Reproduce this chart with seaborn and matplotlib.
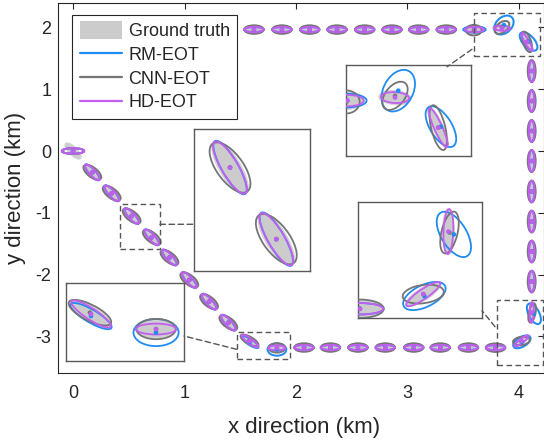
import matplotlib
matplotlib.use('Agg')
import matplotlib.pyplot as plt
import seaborn as sns
import pandas as pd
from matplotlib.patches import Ellipse, Rectangle, ConnectionPatch
from matplotlib.lines import Line2D

# ---------------- data ----------------
# ellipse centres along the ground-truth track (km)
track_x = [0.0, 0.173, 0.347, 0.526, 0.706, 0.865, 1.043, 1.220, 1.393,
           1.587, 1.829,
           2.072, 2.309, 2.556, 2.801, 3.056, 3.294, 3.547, 3.790,
           4.022, 4.114,
           4.114, 4.114, 4.114, 4.114, 4.114, 4.114, 4.114, 4.114,
           4.072, 3.848,
           3.601, 3.348, 3.100, 2.861, 2.616, 2.368, 2.123, 1.874, 1.623]
track_y = [0.0, -0.345, -0.684, -1.052, -1.396, -1.723, -2.087, -2.438, -2.778,
           -3.075, -3.186,
           -3.180, -3.180, -3.180, -3.180, -3.180, -3.180, -3.180, -3.182,
           -3.074, -2.613,
           -2.112, -1.626, -1.141, -0.655, -0.162, 0.324, 0.809, 1.294,
           1.766, 1.987,
           1.965, 1.965, 1.965, 1.965, 1.965, 1.965, 1.965, 1.965, 1.965]
track_kind = ['d'] * 9 + ['t', 't'] + ['h'] * 8 + ['t', 't'] + ['v'] * 8 + ['t', 't'] + ['h'] * 9

methods = ['Ground truth', 'RM-EOT', 'CNN-EOT', 'HD-EOT']

# (semi-major km, semi-minor km, angle deg) per straight-segment type
shapes = {
    'Ground truth': {'d': (0.138, 0.042, -65), 'h': (0.085, 0.062, 0), 'v': (0.175, 0.032, 90)},
    'RM-EOT':       {'d': (0.140, 0.034, -66), 'h': (0.087, 0.042, 0), 'v': (0.172, 0.025, 90)},
    'CNN-EOT':      {'d': (0.134, 0.055, -62), 'h': (0.087, 0.068, 0), 'v': (0.175, 0.035, 90)},
    'HD-EOT':       {'d': (0.138, 0.034, -65), 'h': (0.085, 0.042, 0), 'v': (0.172, 0.025, 90)},
}
# individual estimates that differ: index -> (x, y, semi-major, semi-minor, angle)
overrides = {
    'Ground truth': {9: (1.587, -3.075, 0.119, 0.039, -54.6), 10: (1.829, -3.186, 0.075, 0.065, 0),
                     19: (4.022, -3.074, 0.106, 0.031, 56.4), 20: (4.114, -2.613, 0.169, 0.020, 90),
                     29: (4.072, 1.766, 0.152, 0.027, -72.8), 30: (3.848, 1.987, 0.082, 0.050, -8)},
    'RM-EOT': {0: (0.0, 0.0, 0.100, 0.045, 0), 9: (1.587, -3.090, 0.119, 0.035, -53),
               10: (1.829, -3.212, 0.084, 0.100, 0), 19: (4.026, -3.088, 0.1155, 0.059, 59.3),
               20: (4.134, -2.634, 0.171, 0.051, 103), 29: (4.086, 1.773, 0.159, 0.060, -69.4),
               30: (3.865, 2.038, 0.157, 0.080, 75.6), 31: (3.601, 1.965, 0.100, 0.050, 0)},
    'CNN-EOT': {0: (0.0, 0.0, 0.100, 0.045, 0), 9: (1.583, -3.065, 0.115, 0.045, -52),
                10: (1.829, -3.186, 0.073, 0.075, 3), 19: (4.022, -3.074, 0.081, 0.063, 36),
                20: (4.118, -2.620, 0.155, 0.030, 84), 29: (4.072, 1.766, 0.167, 0.037, -80.8),
                30: (3.848, 2.000, 0.110, 0.055, 67.9), 31: (3.595, 1.955, 0.070, 0.085, 0)},
    'HD-EOT': {0: (0.0, 0.0, 0.100, 0.045, 0), 9: (1.587, -3.075, 0.121, 0.030, -55),
               10: (1.829, -3.186, 0.075, 0.040, 0), 19: (4.022, -3.074, 0.106, 0.025, 56.4),
               20: (4.114, -2.613, 0.165, 0.018, 89), 29: (4.072, 1.766, 0.150, 0.022, -72.8),
               30: (3.848, 1.987, 0.073, 0.040, -5)},
}

x_ticks = [0, 1, 2, 3, 4]
y_ticks = [-3, -2, -1, 0, 1, 2]

# zoom boxes in the main plot (x0, x1, y0, y1)
zoom_boxes = [(0.422, 0.780, -1.586, -0.863), (3.596, 4.188, 1.537, 2.229),
              (3.803, 4.215, -3.463, -2.412), (1.468, 1.946, -3.371, -2.924)]
# inset view limits (x0, x1, y0, y1)
inset_views = [(0.386, 0.837, -1.549, -0.867), (3.594, 4.242, 1.557, 2.227),
               (3.783, 4.237, -3.250, -2.395), (1.494, 1.933, -3.422, -2.848)]

# ---------------- style ----------------
colors = {'Ground truth': '#cccccc', 'RM-EOT': '#1e8cf0', 'CNN-EOT': '#757575', 'HD-EOT': '#c25ff2'}
sns.set_theme(style='white')
plt.rcParams['font.family'] = ['Liberation Sans', 'DejaVu Sans']
plt.rcParams['axes.unicode_minus'] = False


def params(method, i):
    ov = overrides[method]
    if i in ov:
        return ov[i]
    a, b, ang = shapes[method][track_kind[i]]
    return (track_x[i], track_y[i], a, b, ang)


rows = []
for m in methods:
    for i in range(len(track_x)):
        x, y, a, b, ang = params(m, i)
        rows.append(dict(method=m, idx=i, x=x, y=y, a=a, b=b, ang=ang))
df = pd.DataFrame(rows)
dots = df[df.method != 'Ground truth'].copy()
dots['order'] = dots.method.map({'RM-EOT': 0, 'CNN-EOT': 1, 'HD-EOT': 2})
dots = dots.sort_values(['order', 'idx'])


def draw_track(ax, lw):
    for m, z in zip(methods, [2, 3, 4, 5]):
        sub = df[df.method == m]
        for _, r in sub.iterrows():
            if m == 'Ground truth':
                e = Ellipse((r.x, r.y), 2 * r.a, 2 * r.b, angle=r.ang, facecolor=colors[m],
                            edgecolor='#d2d2d2', lw=1.2, zorder=z)
            else:
                e = Ellipse((r.x, r.y), 2 * r.a, 2 * r.b, angle=r.ang, facecolor='none',
                            edgecolor=colors[m], lw=lw, zorder=z)
            ax.add_patch(e)
    sns.scatterplot(data=dots, x='x', y='y', hue='method', palette=colors, s=11,
                    linewidth=0, legend=False, ax=ax, zorder=6)


W, H = 544, 441
fig = plt.figure(figsize=(W / 100, H / 100), dpi=100)
ax = fig.add_axes([58.3 / W, (H - 373) / H, (543.5 - 58.3) / W, (373 - 3.3) / H])
draw_track(ax, 1.45)
ax.set_xlim(-0.132, 4.22)
ax.set_ylim(-3.592, 2.39)
ax.set_xticks(x_ticks)
ax.set_yticks(y_ticks)
ax.tick_params(direction='in', top=True, right=True, length=4, width=0.8, labelsize=13,
               colors='#262626')
ax.tick_params(axis='x', pad=9)
ax.tick_params(axis='y', pad=5)
for s in ax.spines.values():
    s.set_color('#262626')
    s.set_linewidth(0.8)
ax.set_xlabel('x direction (km)', fontsize=16, color='#262626')
ax.set_ylabel('y direction (km)', fontsize=16, color='#262626')
ax.xaxis.set_label_coords(0.506, -0.12)
ax.yaxis.set_label_coords(-0.066, 0.5)

for (x0, x1, y0, y1) in zoom_boxes:
    ax.add_patch(Rectangle((x0, y0), x1 - x0, y1 - y0, fill=False, edgecolor='#555555',
                           lw=1.0, ls=(0, (4, 2.5)), zorder=7, clip_on=False))

handles = [Line2D([], [], color=colors['Ground truth'], lw=13, solid_capstyle='butt'),
           Line2D([], [], color=colors['RM-EOT'], lw=1.6),
           Line2D([], [], color=colors['CNN-EOT'], lw=1.6),
           Line2D([], [], color=colors['HD-EOT'], lw=1.6)]
leg = ax.legend(handles, methods, loc='upper left', bbox_to_anchor=(0.0288, 0.9676),
                borderaxespad=0, fontsize=13, frameon=True, fancybox=False, framealpha=1,
                edgecolor='#262626', handlelength=2.35, handletextpad=0.35, labelspacing=0.38,
                borderpad=0.42)
leg.get_frame().set_linewidth(0.8)
leg.set_zorder(10)

inset_px = [(194, 129, 310, 271), (346, 65, 471, 156), (358, 202, 482, 318), (66, 283.3, 184, 361)]
insets = []
for (l, t, r, b), (x0, x1, y0, y1) in zip(inset_px, inset_views):
    ia = fig.add_axes([l / W, (H - b) / H, (r - l) / W, (b - t) / H])
    ia.set_facecolor('white')
    draw_track(ia, 1.3)
    ia.set_xlim(x0, x1)
    ia.set_ylim(y0, y1)
    ia.set_xticks([])
    ia.set_yticks([])
    ia.set_xlabel('')
    ia.set_ylabel('')
    for s in ia.spines.values():
        s.set_color('#5a5a5a')
        s.set_linewidth(1.0)
    insets.append(ia)

# connectors: (main data point) -> (inset axes fraction)
connectors = [((0.780, -1.186), 0, (0.0, 0.329)),
              ((3.578, 1.646), 1, (0.808, 0.98)),
              ((3.785, -2.843), 2, (1.0, 0.063)),
              ((1.468, -3.209), 3, (1.0, 0.322))]
for (px, py), k, (fx, fy) in connectors:
    cp = ConnectionPatch(xyA=(px, py), coordsA=ax.transData, xyB=(fx, fy),
                         coordsB=insets[k].transAxes, color='#555555', lw=1.0,
                         ls=(0, (4, 2.5)))
    fig.add_artist(cp)

fig.savefig('out.png', dpi=100)
